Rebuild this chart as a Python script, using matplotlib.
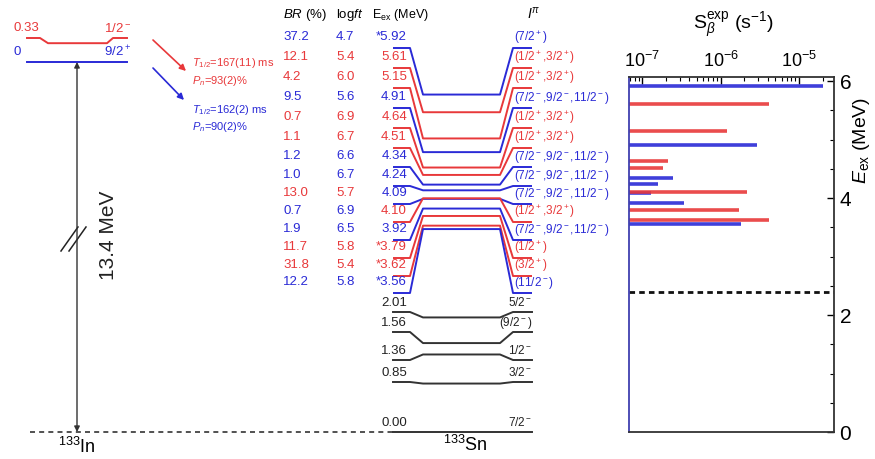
import numpy as np
import matplotlib
matplotlib.use('Agg')
import matplotlib.pyplot as plt
from matplotlib.ticker import MultipleLocator, LogLocator, NullFormatter

plt.rcParams['font.family'] = ['Liberation Sans', 'DejaVu Sans']
plt.rcParams['mathtext.fontset'] = 'custom'
plt.rcParams['mathtext.rm'] = 'Liberation Sans'
plt.rcParams['mathtext.it'] = 'Liberation Sans:italic'
plt.rcParams['mathtext.bf'] = 'Liberation Sans:bold'

RED = '#e8383a'
BLUE = '#2a2ad6'
COL = {'r': RED, 'b': BLUE, 'k': '#222222'}

# 133Sn states above S_n fed in the beta decay of the two 133In isomers
e_ex = [5.92, 5.61, 5.15, 4.91, 4.64, 4.51, 4.34, 4.24, 4.09, 4.10, 3.92, 3.79, 3.62, 3.56]
e_lab = ['*5.92', '5.61', '5.15', '4.91', '4.64', '4.51', '4.34', '4.24', '4.09', '4.10',
         '3.92', '*3.79', '*3.62', '*3.56']
e_col = ['b', 'r', 'r', 'b', 'r', 'r', 'b', 'b', 'b', 'r', 'b', 'r', 'r', 'b']
br = ['37.2', '12.1', '4.2', '9.5', '0.7', '1.1', '1.2', '1.0', '13.0', '0.7', '1.9', '11.7', '31.8', '12.2']
logft = ['4.7', '5.4', '6.0', '5.6', '6.9', '6.7', '6.6', '6.7', '5.7', '6.9', '6.5', '5.8', '5.4', '5.8']
br_col = ['b', 'r', 'r', 'b', 'r', 'r', 'b', 'b', 'r', 'b', 'b', 'r', 'r', 'b']
neg3 = '(7/2$^-$,9/2$^-$,11/2$^-$)'
pos2 = '(1/2$^+$,3/2$^+$)'
spins = ['(7/2$^+$)', pos2, pos2, neg3, pos2, pos2, neg3, neg3, neg3, pos2, neg3,
         '(1/2$^+$)', '(3/2$^+$)', '(11/2$^-$)']
s_beta = [2.0e-5, 4.1e-6, 1.2e-6, 2.9e-6, 2.15e-7, 1.85e-7, 2.5e-7, 1.6e-7, 1.3e-7,
          2.15e-6, 3.4e-7, 1.7e-6, 4.1e-6, 1.85e-6]

# bound states of 133Sn
low_e = [2.01, 1.56, 1.36, 0.85, 0.00]
low_lab = ['2.01', '1.56', '1.36', '0.85', '0.00']
low_spin = ['5/2$^-$', '(9/2$^-$)', '1/2$^-$', '3/2$^-$', '7/2$^-$']

# 133In parent states
in_e = [0.0, 0.33]
in_lab = ['0', '0.33']
in_spin = ['9/2$^+$', '1/2$^-$']
in_col = ['b', 'r']
q_beta = 13.4
s_n = 2.40

PX_PER_MEV = 57.0
Y0 = 432.0
FS = 9.5


def py(p):
    # pixel row -> energy units of the level scheme
    return (Y0 - p) / PX_PER_MEV


fig = plt.figure(figsize=(8.75, 4.59), dpi=100)
ax = fig.add_axes([0, 0, 1, 1])
ax.set_xlim(0, 875)
ax.set_ylim(py(459), py(0))
ax.axis('off')

# level scheme of 133Sn
xs = [393, 410, 423, 500, 513, 532]
rows = np.array([37, 57, 77, 97, 117, 137, 156, 175, 193, 211, 229, 247, 265, 282])
for e, lab, c, b, lf, bc, sp, r in zip(e_ex, e_lab, e_col, br, logft, br_col, spins, rows):
    ys = py(r + 11)
    ax.plot(xs, [ys, ys, e, e, ys, ys], color=COL[c], lw=1.4, solid_capstyle='butt')
    ax.text(283, py(r), b, color=COL[bc], fontsize=FS, va='center', ha='left')
    ax.text(336, py(r), lf, color=COL[bc], fontsize=FS, va='center', ha='left')
    ax.text(407, py(r), lab, color=COL[c], fontsize=FS, va='center', ha='right')
    ax.text(514, py(r + 1), sp, color=COL[c], fontsize=8.5, va='center', ha='left')

low_rows = [303, 323, 351, 373, 423]
for e, lab, sp, r in zip(low_e, low_lab, low_spin, low_rows):
    ys = py(r + 9)
    ax.plot(xs, [ys, ys, e, e, ys, ys], color='#333333', lw=1.4)
    ax.text(407, py(r), lab, color='#222222', fontsize=FS, va='center', ha='right')
    ax.text(532, py(r), sp, color='#222222', fontsize=8.5, va='center', ha='right')

# headers
ax.text(283, py(15), '$BR$ (%)', fontsize=FS, va='center')
ax.text(336, py(15), 'log$ft$', fontsize=FS, va='center')
ax.text(372, py(15), 'E$_{\\rm ex}$ (MeV)', fontsize=9, va='center')
ax.text(527, py(14), '$I^{\\pi}$', fontsize=10, va='center')

# 133In parent levels, placed above a broken energy axis
in_base = py(62)
xi = [27, 40, 48, 107, 113, 127]
for e, lab, sp, c in zip(in_e, in_lab, in_spin, in_col):
    y = in_base + e
    ys = y + (py(38) - (in_base + 0.33)) if e > 0 else y
    ax.plot(xi, [ys, ys, y, y, ys, ys], color=COL[c], lw=1.4)
    ax.text(13, ys + py(0) - py(10), lab, color=COL[c], fontsize=FS, va='center', ha='left')
    ax.text(131, ys + py(0) - py(10), sp, color=COL[c], fontsize=FS, va='center', ha='right')

# Q_beta arrow with axis break
ax.annotate('', xy=(77, in_base), xytext=(77, 0.0),
            arrowprops=dict(arrowstyle='<|-|>', color='#333333', lw=1.0,
                            mutation_scale=8, shrinkA=0, shrinkB=0))
for dx in (0, 8):
    ax.plot([61 + dx, 78 + dx], [py(251), py(227)], color='#222222', lw=1.1)
ax.text(108, py(235), '%.1f MeV' % q_beta, rotation=90, fontsize=15,
        va='center', ha='center', color='#222222')
ax.plot([30, 393], [0, 0], color='#333333', lw=1.2, ls=(0, (3, 2.5)))
ax.text(77, py(447), '$^{133}$In', fontsize=13, ha='center', va='center')
ax.text(465, py(445), '$^{133}$Sn', fontsize=13, ha='center', va='center')

# decay arrows and half-lives
ax.annotate('', xy=(186, py(71)), xytext=(153, py(40)),
            arrowprops=dict(arrowstyle='-|>', color=RED, lw=1.2, mutation_scale=9,
                            shrinkA=0, shrinkB=0))
ax.annotate('', xy=(184, py(100)), xytext=(153, py(68)),
            arrowprops=dict(arrowstyle='-|>', color=BLUE, lw=1.2, mutation_scale=9,
                            shrinkA=0, shrinkB=0))
ax.text(192, py(63), '$T_{1/2}$=167(11) ms', color=RED, fontsize=8, va='center')
ax.text(192, py(81), '$P_n$=93(2)%', color=RED, fontsize=8, va='center')
ax.text(192, py(110), '$T_{1/2}$=162(2) ms', color=BLUE, fontsize=8, va='center')
ax.text(192, py(127), '$P_n$=90(2)%', color=BLUE, fontsize=8, va='center')

# beta strength panel
axr = fig.add_axes([629 / 875, 27 / 459, 205 / 875, 355 / 459])
xmin = 6.8e-8
axr.set_xscale('log')
axr.set_xlim(xmin, 2.8e-5)
axr.set_ylim(0, 6.07)
for e, s, c in zip(e_ex, s_beta, e_col):
    axr.hlines(e, xmin, s, color=COL[c], lw=2.6, alpha=0.9)
axr.axhline(s_n, color='#111111', lw=2.0, ls=(0, (2, 1.5)))

axr.xaxis.set_ticks_position('top')
axr.yaxis.set_ticks_position('right')
axr.xaxis.set_major_locator(LogLocator(base=10, numticks=10))
axr.xaxis.set_minor_locator(LogLocator(base=10, subs=np.arange(2, 10), numticks=20))
axr.xaxis.set_minor_formatter(NullFormatter())
axr.yaxis.set_major_locator(MultipleLocator(2))
axr.yaxis.set_minor_locator(MultipleLocator(0.5))
axr.tick_params(axis='x', which='major', direction='in', length=5, width=1, labelsize=13, pad=4)
axr.tick_params(axis='x', which='minor', direction='in', length=3, width=0.8)
axr.tick_params(axis='y', which='major', direction='in', length=5, width=1, labelsize=15, pad=4)
axr.tick_params(axis='y', which='minor', direction='in', length=3, width=0.8)
for side in ('top', 'right', 'bottom'):
    axr.spines[side].set_linewidth(1.3)
    axr.spines[side].set_color('#333333')
axr.spines['left'].set_linewidth(1.3)
axr.spines['left'].set_color('#4040b0')

fig.text(733 / 875, 1 - 25 / 459, 'S$_\\beta^{\\rm exp}$ (s$^{-1}$)', fontsize=14,
         ha='center', va='center')
fig.text(862 / 875, 1 - 140 / 459, '$E_{\\rm ex}$ (MeV)', fontsize=14, rotation=90,
         ha='center', va='center')

fig.savefig('out.png', dpi=100)
